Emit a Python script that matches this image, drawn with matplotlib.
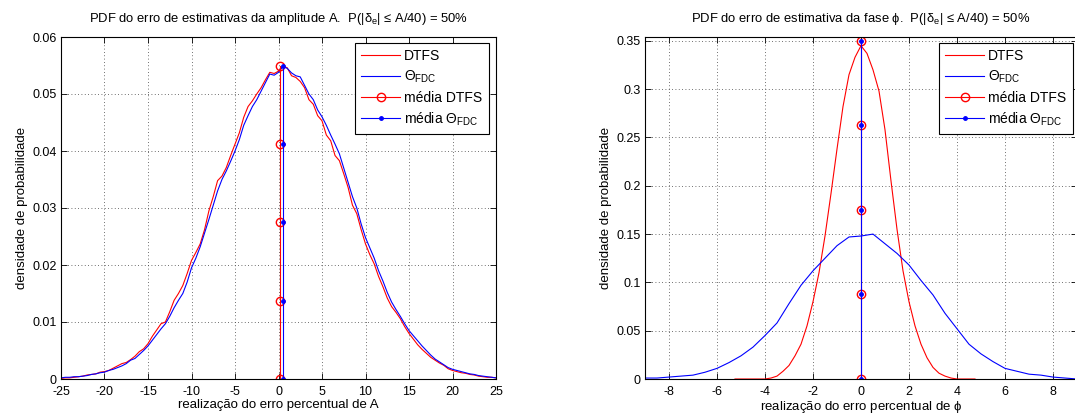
import numpy as np
import matplotlib
matplotlib.use('Agg')
import matplotlib.pyplot as plt

plt.rcParams['font.family'] = ['Liberation Sans', 'DejaVu Sans']
plt.rcParams['font.size'] = 9
plt.rcParams['axes.unicode_minus'] = False
plt.rcParams['mathtext.fontset'] = 'custom'
plt.rcParams['mathtext.rm'] = 'Liberation Sans'
plt.rcParams['mathtext.it'] = 'Liberation Sans'

# ---- amplitude A (erro percentual), passo 0.5
xA = np.arange(-25, 25.01, 0.5)
dtfsA = [0.0001, 0.0002, 0.0002, 0.0003, 0.0004, 0.0005, 0.0007, 0.0008, 0.0009, 0.0012,
         0.0013, 0.0015, 0.0019, 0.0023, 0.0027, 0.0029, 0.0034, 0.0040, 0.0048, 0.0053,
         0.0062, 0.0075, 0.0086, 0.0097, 0.0100, 0.0118, 0.0138, 0.0150, 0.0164, 0.0185,
         0.0208, 0.0222, 0.0237, 0.0262, 0.0295, 0.0320, 0.0348, 0.0356, 0.0371, 0.0392,
         0.0412, 0.0432, 0.0459, 0.0478, 0.0488, 0.0500, 0.0511, 0.0525, 0.0538, 0.0536,
         0.0540,
         0.0549, 0.0546, 0.0532, 0.0529, 0.0522, 0.0511, 0.0490, 0.0482, 0.0462, 0.0453,
         0.0428, 0.0418, 0.0392, 0.0383, 0.0360, 0.0336, 0.0305, 0.0290, 0.0262, 0.0237,
         0.0218, 0.0202, 0.0180, 0.0162, 0.0142, 0.0127, 0.0117, 0.0106, 0.0092, 0.0080,
         0.0070, 0.0060, 0.0052, 0.0045, 0.0038, 0.0033, 0.0028, 0.0024, 0.0018, 0.0015,
         0.0013, 0.0011, 0.0010, 0.0008, 0.0007, 0.0005, 0.0004, 0.0003, 0.0003, 0.0002]
fdcA = [0.0002, 0.0003, 0.0003, 0.0004, 0.0004, 0.0005, 0.0006, 0.0008, 0.0009, 0.0011,
        0.0012, 0.0015, 0.0017, 0.0020, 0.0023, 0.0027, 0.0033, 0.0036, 0.0043, 0.0050,
        0.0058, 0.0068, 0.0078, 0.0088, 0.0097, 0.0110, 0.0125, 0.0138, 0.0150, 0.0170,
        0.0195, 0.0212, 0.0232, 0.0256, 0.0280, 0.0305, 0.0330, 0.0350, 0.0365, 0.0382,
        0.0400, 0.0420, 0.0445, 0.0462, 0.0478, 0.0490, 0.0505, 0.0520, 0.0535, 0.0533,
        0.0538,
        0.0548, 0.0545, 0.0537, 0.0532, 0.0530, 0.0515, 0.0500, 0.0490, 0.0472, 0.0460,
        0.0445, 0.0428, 0.0412, 0.0395, 0.0370, 0.0345, 0.0320, 0.0300, 0.0272, 0.0248,
        0.0230, 0.0212, 0.0190, 0.0172, 0.0152, 0.0135, 0.0122, 0.0110, 0.0097, 0.0085,
        0.0076, 0.0067, 0.0058, 0.0050, 0.0042, 0.0035, 0.0030, 0.0025, 0.0020, 0.0017,
        0.0015, 0.0013, 0.0011, 0.0009, 0.0008, 0.0006, 0.0005, 0.0004, 0.0003, 0.0002]
mediaA_dtfs = 0.15
mediaA_fdc = 0.5
mediaA_y = [0, 0.01375, 0.0275, 0.04125, 0.055]

# ---- fase phi
xF_dtfs = np.arange(-5.25, 4.76, 0.25)
dtfsF = [0, 0, 0, 0, 0, 0, 0.001, 0.003, 0.008, 0.014,
         0.024, 0.036, 0.055, 0.080, 0.110, 0.148, 0.192, 0.238, 0.282, 0.315,
         0.333, 0.345, 0.337, 0.320, 0.298, 0.258, 0.205, 0.155, 0.112, 0.080,
         0.055, 0.036, 0.022, 0.012, 0.006, 0.003, 0.001, 0, 0, 0, 0]
xF_fdc = np.arange(-9, 9.01, 0.5)
fdcF = [0.001, 0.001, 0.002, 0.003, 0.004, 0.007, 0.011, 0.017, 0.024, 0.033,
        0.045, 0.058, 0.078, 0.097, 0.112, 0.125, 0.138, 0.147, 0.148, 0.150,
        0.140, 0.130, 0.118, 0.102, 0.087, 0.068, 0.052, 0.036, 0.026, 0.018,
        0.011, 0.008, 0.005, 0.004, 0.002, 0.001, 0.000]
mediaF_dtfs = 0.0
mediaF_fdc = 0.0
mediaF_y = [0, 0.0875, 0.175, 0.2625, 0.35]

fig = plt.figure(figsize=(10.75, 4.17), dpi=100)
ax1 = fig.add_axes([61/1075, 38/417, 435/1075, 342/417])
ax2 = fig.add_axes([645/1075, 38/417, 432/1075, 342/417])

def estilo(ax):
    ax.grid(True, color='0.25', linestyle=(0, (1, 3)), linewidth=0.6)
    ax.tick_params(direction='in', top=True, right=True, length=4, width=0.6, pad=3)
    ax.tick_params(axis='x', pad=5)
    for s in ax.spines.values():
        s.set_linewidth(0.8)

lw = 0.8
tit = dict(fontsize=9.4, pad=11)
lab = dict(fontsize=9.5)

ax1.plot(xA, dtfsA, color='r', lw=lw, label='DTFS')
ax1.plot(xA, fdcA, color='b', lw=lw, label=r'$\Theta_{\rm FDC}$')
ax1.plot([mediaA_dtfs]*5, mediaA_y, color='r', lw=lw, marker='o', ms=6, mfc='none', label='média DTFS')
ax1.plot([mediaA_fdc]*5, mediaA_y, color='b', lw=lw, marker='.', ms=5, label=r'média $\Theta_{\rm FDC}$')
ax1.set_xlim(-25, 25)
ax1.set_ylim(0, 0.06)
ax1.set_xticks(np.arange(-25, 26, 5))
ax1.set_yticks([0, 0.01, 0.02, 0.03, 0.04, 0.05, 0.06])
ax1.set_yticklabels(['0', '0.01', '0.02', '0.03', '0.04', '0.05', '0.06'])
ax1.set_title(r'PDF do erro de estimativas da amplitude A.  P(|$\delta_{\rm e}$| ≤ A/40) = 50%', **tit)
ax1.set_xlabel('realização do erro percentual de A', labelpad=1, **lab)
ax1.set_ylabel('densidade de probabilidade', labelpad=3, **lab)
estilo(ax1)

ax2.plot(xF_dtfs, dtfsF, color='r', lw=lw, label='DTFS')
ax2.plot(xF_fdc, fdcF, color='b', lw=lw, label=r'$\Theta_{\rm FDC}$')
ax2.plot([mediaF_dtfs]*5, mediaF_y, color='r', lw=lw, marker='o', ms=6, mfc='none', label='média DTFS')
ax2.plot([mediaF_fdc]*5, mediaF_y, color='b', lw=lw, marker='.', ms=5, label=r'média $\Theta_{\rm FDC}$')
ax2.set_xlim(-9, 9)
ax2.set_ylim(0, 0.354)
ax2.set_xticks(np.arange(-8, 9, 2))
ax2.set_yticks([0, 0.05, 0.1, 0.15, 0.2, 0.25, 0.3, 0.35])
ax2.set_yticklabels(['0', '0.05', '0.1', '0.15', '0.2', '0.25', '0.3', '0.35'])
ax2.set_title(r'PDF do erro de estimativa da fase $\phi$.  P(|$\delta_{\rm e}$| ≤ A/40) = 50%', **tit)
ax2.set_xlabel(r'realização do erro percentual de $\phi$', labelpad=1, **lab)
ax2.set_ylabel('densidade de probabilidade', labelpad=3, **lab)
estilo(ax2)

for ax, bx in [(ax1, (355/1075, 43/417)), (ax2, (939/1075, 43/417))]:
    leg = ax.legend(loc='upper left', bbox_to_anchor=(bx[0], 1 - bx[1]), bbox_transform=fig.transFigure,
                    fancybox=False, framealpha=1, edgecolor='k', handlelength=2.8, fontsize=10,
                    borderpad=0.45, labelspacing=0.4, handletextpad=0.3, borderaxespad=0)
    leg.get_frame().set_linewidth(0.8)

fig.savefig('out.png', dpi=100)
